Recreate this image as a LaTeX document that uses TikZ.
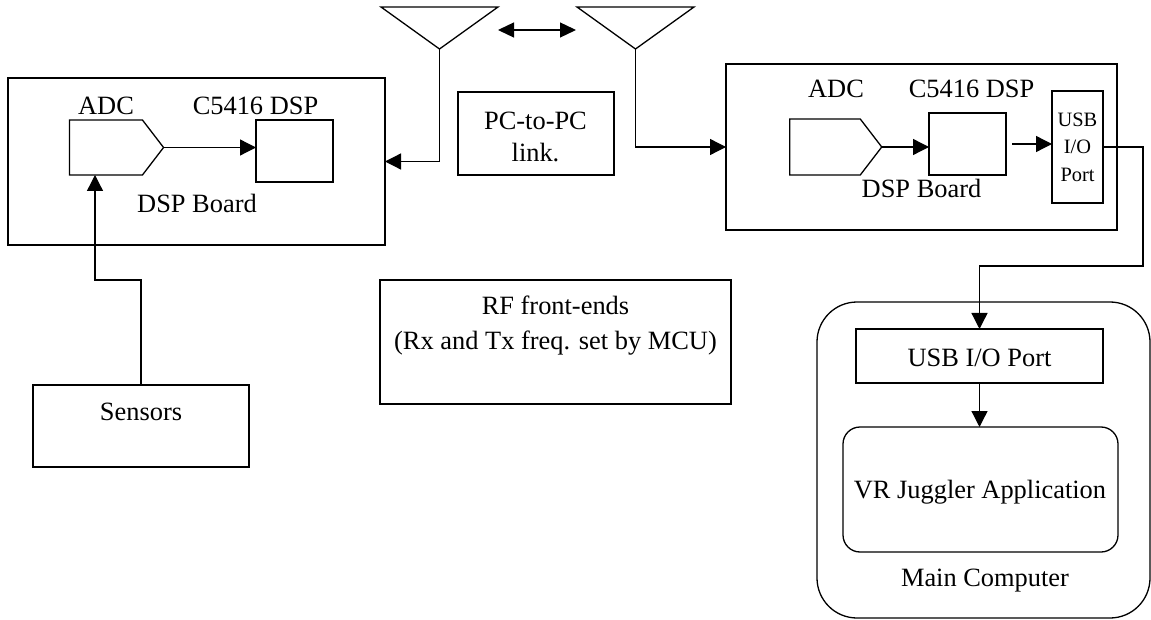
\documentclass[tikz,border=0pt]{standalone}
\usepackage{fontspec}
\setmainfont{Liberation Serif}
\usetikzlibrary{arrows.meta,shapes.symbols}

\begin{document}
\begin{tikzpicture}[x=0.5pt,y=-0.5pt,line width=0.65pt,
    box/.style={draw,inner sep=0pt,outer sep=0pt},
    adc/.style={draw,signal,signal to=east,signal pointer angle=105,
        inner sep=0pt,outer sep=0pt},
    txt/.style={font=\fontsize{13.2}{17.5}\selectfont,inner sep=0pt,anchor=base},
    small/.style={font=\fontsize{10.2}{13.8}\selectfont,align=center},
    link/.style={-{Triangle[length=8pt,width=8pt]}}]
\useasboundingbox (0,0) rectangle (1151,620);

% left DSP board
\node[box,minimum width=188.5pt,minimum height=83.5pt] (boardL) at (196.5,161.5) {};
\node[adc,minimum width=47pt,minimum height=27.5pt] (adcL) at (106,147.5) {};
\node[box,minimum width=38.5pt,minimum height=31pt] (dspL) at (294.5,151) {};
\node[txt] (adcLt) at (106,115) {ADC};
\node[txt] (dspLt) at (255.5,115) {C5416 DSP};
\node[txt] (boardLt) at (197,213) {DSP Board};
\draw[link] (adcL.east) -- (adcL.east -| dspL.west);

% right DSP board
\node[box,minimum width=195.5pt,minimum height=83pt] (boardR) at (921.5,147) {};
\node[adc,minimum width=46pt,minimum height=28pt] (adcR) at (825,147) {};
\node[box,minimum width=38.5pt,minimum height=31pt] (dspR) at (967.5,144) {};
\node[box,small,minimum width=25.5pt,minimum height=56pt] (usbR) at (1077.5,147) {USB\\I/O\\Port};
\node[txt] (adcRt) at (836,98) {ADC};
\node[txt] (dspRt) at (971.5,98) {C5416 DSP};
\node[txt] (boardRt) at (921.5,198) {DSP Board};
\draw[link] (adcR.east) -- (adcR.east -| dspR.west);
\draw[link,shorten <=3pt] (dspR.east) -- (dspR.east -| usbR.west);

% antennas
\coordinate (antL) at (439.5,49);
\coordinate (antR) at (635.5,49);
\draw (381,7) -- (498,7) -- (antL) -- cycle;
\draw (577,7) -- (694,7) -- (antR) -- cycle;
\coordinate (lkA) at (498,30);
\coordinate (lkB) at (576,30);
\draw[{Triangle[length=8pt,width=7.5pt]}-{Triangle[length=8pt,width=7.5pt]}] (lkA) -- (lkB);
\draw[link] (antL) |- (boardL.east);
\draw[link] (antR) |- (boardR.west);

\node[box,minimum width=78pt,minimum height=41.5pt] (link) at (536,133.5) {};
\node[txt,align=center] (linkt) at (535.5,162) {PC-to-PC\\[-1.5pt]link.};
\node[box,minimum width=175.5pt,minimum height=62pt] (rf) at (555.5,342) {};
\node[txt,align=center] (rft) at (555.5,350) {RF front-ends\\(Rx and Tx freq. set by MCU)};

% sensors
\node[box,minimum width=108pt,minimum height=41pt] (sensors) at (141,426) {};
\node[txt] (sensorst) at (141,420) {Sensors};
\coordinate (bendB) at (95,280);
\draw[link] (sensors.north) |- (bendB) -- (bendB |- adcL.south);

% main computer
\node[box,rounded corners=20pt,minimum width=166.5pt,minimum height=158pt] (mainpc) at (983.5,460) {};
\node[box,minimum width=123.5pt,minimum height=27pt] (usbM) at (979.5,356) {};
\node[box,rounded corners=8.5pt,minimum width=137.5pt,minimum height=62.5pt] (vr) at (980.5,489.5) {};
\node[txt] (usbMt) at (979.5,366) {USB I/O Port};
\node[txt] (vrt) at (980,498) {VR Juggler Application};
\node[txt] (mainpct) at (985,586) {Main Computer};
\coordinate (bendA) at (1143,266);
\draw[link] (usbR.east) -| (bendA) -| (usbM.north);
\draw[link] (usbM.south) -- (usbM.south |- vr.north);

\end{tikzpicture}
\end{document}
